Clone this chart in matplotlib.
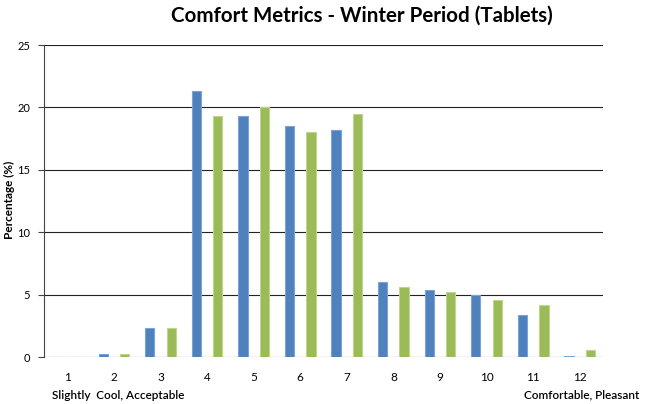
import numpy as np
import matplotlib
matplotlib.use('Agg')
import matplotlib.pyplot as plt

plt.rcParams['font.family'] = ['Lato', 'DejaVu Sans']

# data
categories = ['1', '2', '3', '4', '5', '6', '7', '8', '9', '10', '11', '12']
blue_vals = [0, 0.25, 2.3, 21.3, 19.3, 18.5, 18.15, 6.0, 5.4, 5.0, 3.4, 0.1]
green_vals = [0, 0.25, 2.3, 19.3, 20.05, 18.05, 19.45, 5.65, 5.2, 4.6, 4.15, 0.55]
yticks = [0, 5, 10, 15, 20, 25]

fig = plt.figure(figsize=(6.5, 4.04), dpi=100)
ax = fig.add_axes([0.0677, 0.1163, 0.86, 0.7723])

x = np.arange(len(categories))
w = 0.2
ax.bar(x - 0.23, blue_vals, w, color='#4F81BD', edgecolor='#7BA3D6', linewidth=0.8, zorder=3)
ax.bar(x + 0.23, green_vals, w, color='#9BBB59', edgecolor='#BFD68C', linewidth=0.8, zorder=3)

ax.set_xlim(-0.5, len(categories) - 0.5)
ax.set_ylim(0, 25)
ax.set_yticks(yticks)
ax.set_yticklabels([str(v) for v in yticks], fontsize=8)
ax.set_xticks(x)
ax.set_xticklabels(categories, fontsize=8.5)
ax.tick_params(axis='x', length=0, pad=11)
ax.tick_params(axis='y', length=4, width=0.8, direction='out', pad=6, color='#444444')

for v in yticks:
    ax.axhline(v, color='#222222', linewidth=0.8, zorder=1)

for s in ['top', 'right', 'bottom']:
    ax.spines[s].set_visible(False)
ax.spines['left'].set_color('#444444')
ax.spines['left'].set_linewidth(0.8)

fig.text(0.014, 0.505, 'Percentage (%)', fontsize=8.5, fontweight='bold',
         rotation=90, ha='center', va='center')

fig.text(0.557, 0.962, 'Comfort Metrics - Winter Period (Tablets)', fontsize=14.8,
         fontweight='bold', ha='center', va='center')
fig.text(0.08, 0.022, 'Slightly  Cool, Acceptable', fontsize=8.5, fontweight='semibold',
         ha='left', va='center')
fig.text(0.983, 0.022, 'Comfortable, Pleasant', fontsize=8.5, fontweight='semibold',
         ha='right', va='center')

fig.savefig('out.png', dpi=100)
